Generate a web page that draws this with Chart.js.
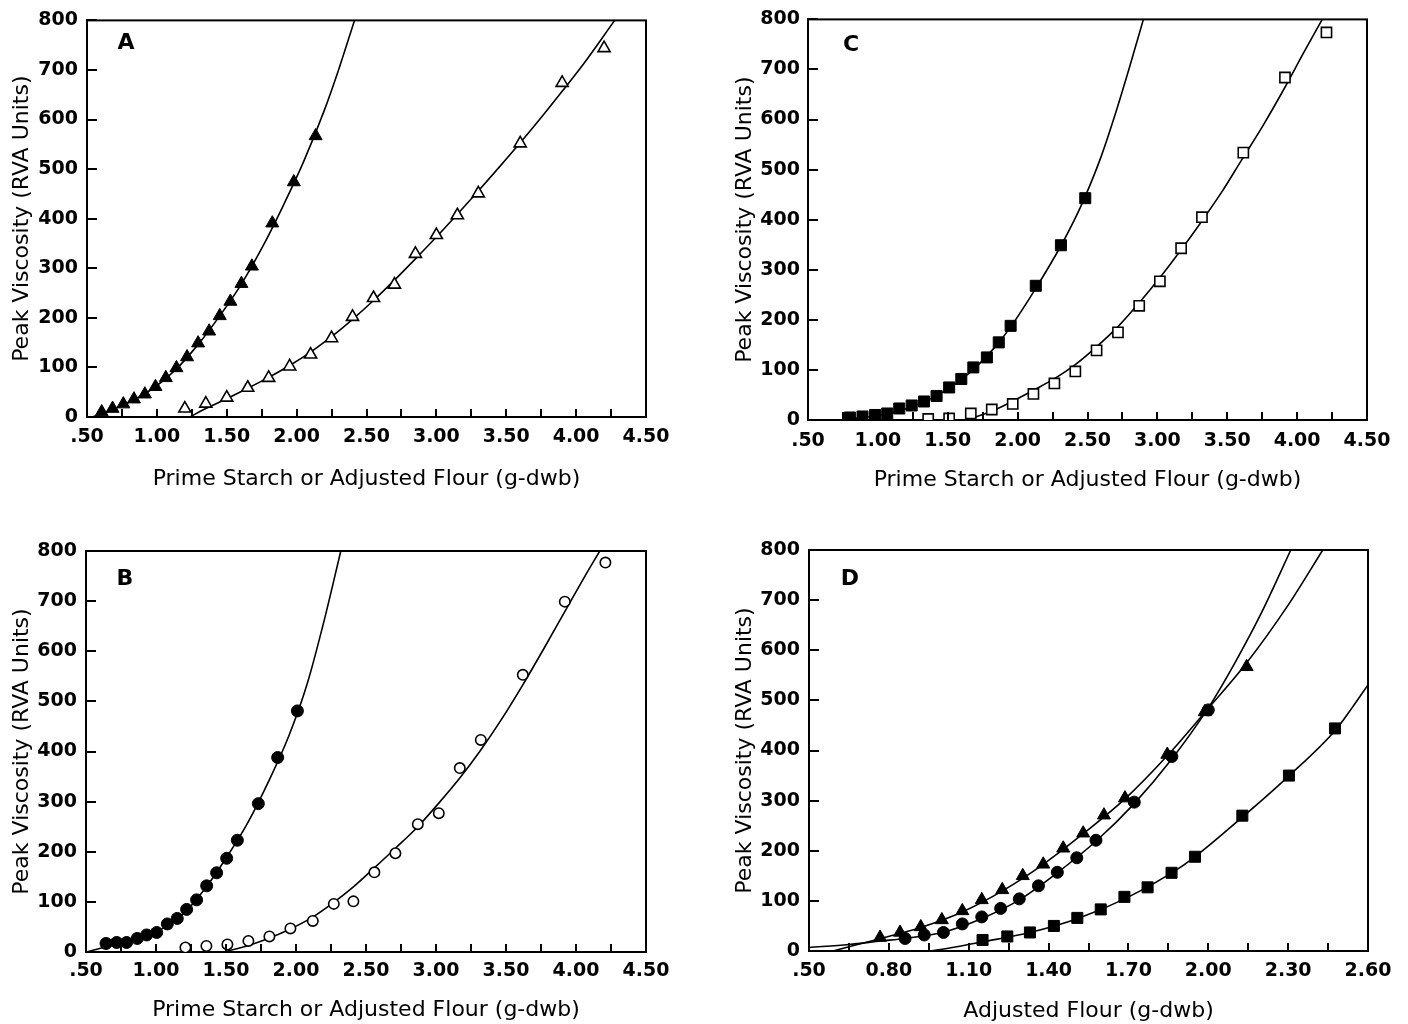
<!DOCTYPE html>
<html><head><meta charset="utf-8">
<script src="https://cdn.jsdelivr.net/npm/chart.js@4/dist/chart.umd.min.js"></script>
<style>
html,body{margin:0;padding:0;background:#fff;width:1408px;height:1024px;overflow:hidden;position:relative}
canvas{position:absolute}
.lbl{position:absolute;font-family:'DejaVu Sans';font-weight:bold;font-size:22px;line-height:1;transform:translate(-50%,-50%);color:#000}
</style></head><body>
<canvas id="cA" width="700" height="505" style="left:0;top:0"></canvas>
<canvas id="cC" width="692" height="505" style="left:716px;top:0"></canvas>
<canvas id="cB" width="700" height="509" style="left:0;top:515px"></canvas>
<canvas id="cD" width="692" height="509" style="left:716px;top:515px"></canvas>
<div class="lbl" style="left:126px;top:42px">A</div>
<div class="lbl" style="left:851px;top:44px">C</div>
<div class="lbl" style="left:125px;top:578px">B</div>
<div class="lbl" style="left:850px;top:578px">D</div>
<script>
// ---- tick values / labels ----
const xTickValuesABC = [0.5,0.75,1.0,1.25,1.5,1.75,2.0,2.25,2.5,2.75,3.0,3.25,3.5,3.75,4.0,4.25,4.5];
const xTickLabelsABC = ['.50','1.00','1.50','2.00','2.50','3.00','3.50','4.00','4.50'];
const xTickValuesD = [0.5,0.65,0.8,0.95,1.1,1.25,1.4,1.55,1.7,1.85,2.0,2.15,2.3,2.45,2.6];
const xTickLabelsD = ['.50','0.80','1.10','1.40','1.70','2.00','2.30','2.60'];
const yTickValues = [0,100,200,300,400,500,600,700,800];
const yTickLabels = ['0','100','200','300','400','500','600','700','800'];
const yTitle = 'Peak Viscosity (RVA Units)';
const xTitleABC = 'Prime Starch or Adjusted Flour (g-dwb)';
const xTitleD = 'Adjusted Flour (g-dwb)';

// ---- Panel A ----
const aFilledX = [0.605,0.683,0.760,0.836,0.914,0.990,1.064,1.140,1.216,1.295,1.374,1.450,1.526,1.605,1.680,1.826,1.980,2.136];
const aFilledY = [10,17,26,36,46,61,79,99,121,149,173,204,233,269,304,391,474,567];
const aOpenX = [1.20,1.35,1.50,1.65,1.80,1.95,2.10,2.25,2.40,2.55,2.70,2.85,3.00,3.15,3.30,3.60,3.90,4.20];
const aOpenY = [17,27,39,59,79,102,126,159,202,240,267,329,367,407,451,552,674,744];
const aFitFilledX = [0.54,0.68,0.84,0.99,1.14,1.30,1.45,1.60,1.75,1.90,2.05,2.20,2.30,2.414];
const aFitFilledY = [0,15,35,61,97,148,204,266,340,424,515,620,700,800];
const aFitOpenX = [1.236,1.35,1.50,1.65,1.80,1.95,2.10,2.25,2.40,2.55,2.70,2.85,3.00,3.15,3.30,3.45,3.60,3.75,3.90,4.05,4.276];
const aFitOpenY = [0,17,37,58,80,104,131,162,197,235,276,319,363,409,456,504,553,604,657,711,800];

// ---- Panel B ----
const bFilledX = [0.643,0.719,0.790,0.866,0.933,1.005,1.081,1.152,1.219,1.290,1.362,1.433,1.505,1.581,1.731,1.869,2.010];
const bFilledY = [17,19,19,27,34,39,56,67,85,104,132,158,187,223,296,388,481];
const bOpenX = [1.21,1.36,1.51,1.66,1.81,1.96,2.12,2.27,2.41,2.56,2.71,2.87,3.02,3.17,3.32,3.62,3.92,4.21];
const bOpenY = [9,12,15,22,31,47,62,96,101,159,197,255,277,367,423,553,699,777];
const bFitFilledX = [0.505,0.64,0.79,0.93,1.08,1.22,1.36,1.50,1.65,1.80,1.95,2.08,2.20,2.32];
const bFitFilledY = [0,10,20,32,52,83,130,187,255,338,432,535,660,800];
const bFitOpenX = [1.48,1.66,1.81,1.96,2.11,2.26,2.41,2.56,2.71,2.87,3.02,3.17,3.32,3.47,3.62,3.77,3.92,4.06,4.17];
const bFitOpenY = [0,13,28,46,68,97,130,168,207,250,297,347,403,465,533,605,679,748,800];

// ---- Panel C ----
const cFilledX = [0.80,0.89,0.98,1.067,1.153,1.242,1.33,1.42,1.51,1.597,1.683,1.78,1.865,1.95,2.13,2.31,2.484];
const cFilledY = [5,7,10,13,23,29,37,48,65,82,105,125,155,188,268,349,443];
const cOpenX = [1.36,1.51,1.665,1.815,1.965,2.113,2.263,2.413,2.565,2.718,2.87,3.018,3.17,3.319,3.615,3.913,4.21];
const cOpenY = [2,3,13,21,32,52,73,97,139,175,228,277,343,405,534,684,774];
const cFitFilledX = [0.78,0.98,1.15,1.33,1.51,1.68,1.86,1.95,2.13,2.31,2.40,2.48,2.60,2.70,2.80,2.90];
const cFitFilledY = [2,8,18,36,63,100,153,186,263,348,396,444,528,612,704,800];
const cFitOpenX = [1.635,1.81,1.96,2.11,2.26,2.41,2.56,2.72,2.87,3.02,3.17,3.31,3.46,3.60,3.76,3.91,4.05,4.18];
const cFitOpenY = [0,17,37,59,82,110,145,187,234,285,340,394,455,518,590,663,735,800];

// ---- Panel D ----
const dTriX = [0.767,0.842,0.920,0.999,1.076,1.149,1.226,1.303,1.380,1.455,1.530,1.608,1.687,1.846,1.987,2.144];
const dTriY = [27,37,48,62,80,102,122,150,173,205,235,271,305,392,477,567];
const dCircX = [0.861,0.933,1.005,1.076,1.149,1.220,1.290,1.362,1.433,1.506,1.578,1.722,1.863,2.000];
const dCircY = [25,32,37,54,68,85,104,130,157,186,221,297,388,481];
const dSqX = [1.152,1.245,1.330,1.420,1.508,1.596,1.685,1.772,1.862,1.950,2.128,2.303,2.476];
const dSqY = [22,29,37,50,66,83,108,127,156,188,270,350,444];
const dFitTriX = [0.59,0.77,0.92,1.08,1.23,1.38,1.53,1.69,1.85,1.99,2.14,2.30,2.43];
const dFitTriY = [0,25,47,79,121,173,234,305,392,478,572,690,800];
const dFitCircX = [0.50,0.65,0.77,0.86,1.00,1.15,1.29,1.43,1.58,1.72,1.86,2.00,2.10,2.20,2.31];
const dFitCircY = [7,13,20,25,37,65,102,155,220,293,381,485,575,675,800];
const dFitSqX = [0.955,1.05,1.15,1.33,1.51,1.69,1.86,1.95,2.13,2.30,2.48,2.54,2.60];
const dFitSqY = [0,8,18,37,65,105,155,188,268,348,442,485,531];

// ---- helpers ----
const zip = (xs, ys) => xs.map((x, i) => ({x, y: ys[i]}));
const FONT = 'DejaVu Sans';
const TICK_FS = 19, TITLE_FS = 22;
const XTICK_LEN = 8, YTICK_LEN = 10;

function marks(xs, ys, style, filled, r) {
  return {data: zip(xs, ys), showLine: false, pointStyle: style, pointRadius: r, pointHoverRadius: r,
    pointBackgroundColor: filled ? '#000' : '#fff', pointBorderColor: '#000', pointBorderWidth: filled ? 1 : 1.6};
}
function curve(xs, ys) {
  return {data: zip(xs, ys), showLine: true, pointRadius: 0, pointHoverRadius: 0, borderColor: '#000',
    borderWidth: 1.6, cubicInterpolationMode: 'monotone', fill: false};
}

const frame = {
  id: 'frame',
  beforeDatasetsDraw(chart) {
    const a = chart.chartArea, ctx = chart.ctx;
    ctx.save(); ctx.strokeStyle = '#000'; ctx.lineWidth = 2;
    ctx.strokeRect(a.left, a.top, a.right - a.left, a.bottom - a.top);
    ctx.restore();
  },
  afterDraw(chart) {
    const a = chart.chartArea, ctx = chart.ctx;
    const sx = chart.scales.x, sy = chart.scales.y;
    ctx.save();
    ctx.strokeStyle = '#000'; ctx.lineWidth = 2;
    ctx.beginPath();
    for (const t of sx.ticks) {
      const px = Math.round(sx.getPixelForValue(t.value));
      ctx.moveTo(px, a.bottom); ctx.lineTo(px, a.bottom - XTICK_LEN);
    }
    for (const t of sy.ticks) {
      const py = Math.round(sy.getPixelForValue(t.value));
      ctx.moveTo(a.left, py); ctx.lineTo(a.left + YTICK_LEN, py);
    }
    ctx.stroke();
    ctx.restore();
  }
};

function makePanel(id, geo, xMin, xMax, xVals, xLabels, xTitle, datasets) {
  const cv = geo.canvas, p = geo.plot;
  const lhT = TICK_FS * 1.2, lhTitle = TITLE_FS * 1.2;
  const xPad = (geo.xLabelY - p.bottom) - lhT / 2;
  const yPad = (p.left - geo.yLabelRight);
  const xTitlePadB = (cv.top + cv.height) - geo.xTitleY - lhTitle / 2;
  const yTitlePadT = (geo.yTitleX - cv.left) - lhTitle / 2;
  new Chart(document.getElementById(id), {
    type: 'scatter',
    data: {datasets},
    plugins: [frame],
    options: {
      responsive: false, animation: false, devicePixelRatio: 1,
      layout: {padding: {left: 0, top: p.top - cv.top, right: cv.left + cv.width - p.right, bottom: 0}},
      plugins: {legend: {display: false}, tooltip: {enabled: false}},
      scales: {
        x: {
          type: 'linear', position: 'bottom', min: xMin, max: xMax,
          afterBuildTicks: s => { s.ticks = xVals.map(v => ({value: v})); },
          afterFit: s => { s.height = cv.top + cv.height - p.bottom; },
          ticks: {autoSkip: false, maxRotation: 0, padding: xPad, color: '#000',
            font: {family: FONT, size: TICK_FS, weight: 'bold'},
            callback: (v, i) => (i % 2 === 0 ? xLabels[i / 2] : '')},
          grid: {drawOnChartArea: false, drawTicks: false},
          border: {display: true, color: '#000', width: 2},
          title: {display: true, text: xTitle, color: '#000', font: {family: FONT, size: TITLE_FS, weight: 'normal'},
            padding: {top: 0, bottom: xTitlePadB}}
        },
        y: {
          type: 'linear', position: 'left', min: 0, max: 800,
          afterBuildTicks: s => { s.ticks = yTickValues.map(v => ({value: v})); },
          afterFit: s => { s.width = p.left - cv.left; },
          ticks: {autoSkip: false, padding: yPad, color: '#000',
            font: {family: FONT, size: TICK_FS, weight: 'bold'},
            callback: (v, i) => yTickLabels[i]},
          grid: {drawOnChartArea: false, drawTicks: false},
          border: {display: true, color: '#000', width: 2},
          title: {display: true, text: yTitle, color: '#000', font: {family: FONT, size: TITLE_FS, weight: 'normal'},
            padding: {top: yTitlePadT, bottom: 0}}
        }
      }
    }
  });
}

makePanel('cA', {canvas: {left: 0, top: 0, width: 700, height: 505}, plot: {left: 87, top: 17, right: 646, bottom: 417},
  xLabelY: 437, xTitleY: 479, yTitleX: 22, yLabelRight: 78}, 0.5, 4.5, xTickValuesABC, xTickLabelsABC, xTitleABC, [
  marks(aFilledX, aFilledY, 'triangle', true, 7.5),
  marks(aOpenX, aOpenY, 'triangle', false, 7),
  curve(aFitFilledX, aFitFilledY),
  curve(aFitOpenX, aFitOpenY)
]);
makePanel('cC', {canvas: {left: 716, top: 0, width: 692, height: 505}, plot: {left: 808, top: 19, right: 1367, bottom: 420},
  xLabelY: 441, xTitleY: 480, yTitleX: 745, yLabelRight: 800}, 0.5, 4.5, xTickValuesABC, xTickLabelsABC, xTitleABC, [
  marks(cFilledX, cFilledY, 'rect', true, 7.8),
  marks(cOpenX, cOpenY, 'rect', false, 7.2),
  curve(cFitFilledX, cFitFilledY),
  curve(cFitOpenX, cFitOpenY)
]);
makePanel('cB', {canvas: {left: 0, top: 515, width: 700, height: 509}, plot: {left: 86, top: 551, right: 646, bottom: 952},
  xLabelY: 971, xTitleY: 1010, yTitleX: 22, yLabelRight: 77}, 0.5, 4.5, xTickValuesABC, xTickLabelsABC, xTitleABC, [
  marks(bFilledX, bFilledY, 'circle', true, 6),
  marks(bOpenX, bOpenY, 'circle', false, 5.2),
  curve(bFitFilledX, bFitFilledY),
  curve(bFitOpenX, bFitOpenY)
]);
makePanel('cD', {canvas: {left: 716, top: 515, width: 692, height: 509}, plot: {left: 809, top: 550, right: 1368, bottom: 951},
  xLabelY: 971, xTitleY: 1011, yTitleX: 745, yLabelRight: 800}, 0.5, 2.6, xTickValuesD, xTickLabelsD, xTitleD, [
  marks(dTriX, dTriY, 'triangle', true, 7.5),
  marks(dCircX, dCircY, 'circle', true, 6),
  marks(dSqX, dSqY, 'rect', true, 7.8),
  curve(dFitTriX, dFitTriY),
  curve(dFitCircX, dFitCircY),
  curve(dFitSqX, dFitSqY)
]);
</script>
</body></html>
